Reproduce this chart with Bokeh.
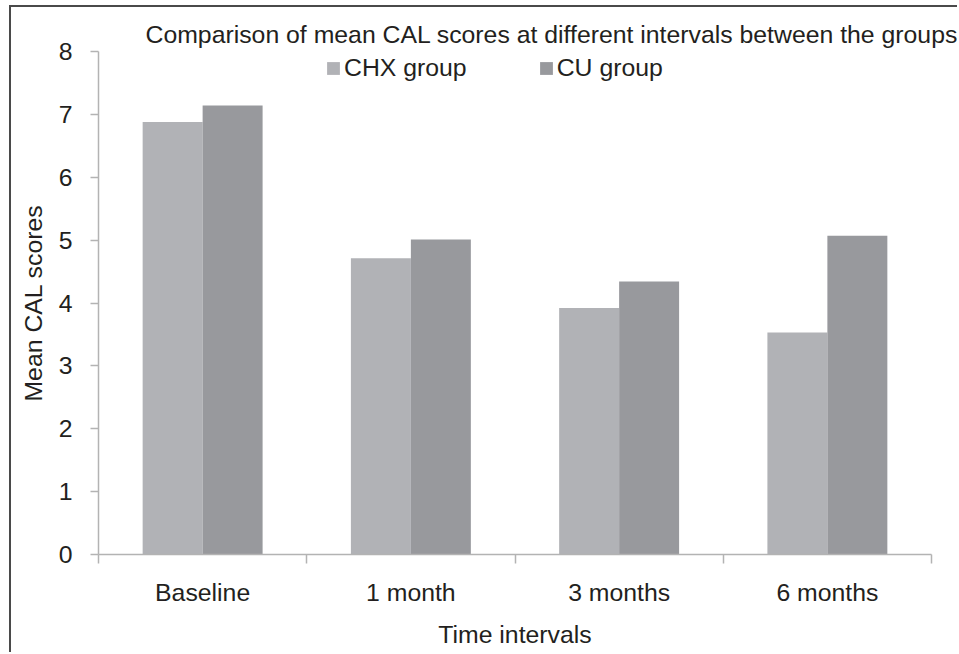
from bokeh.plotting import figure
from bokeh.models import (Range1d, LinearAxis, FixedTicker, Title,
                          ColumnDataSource, Legend, LegendItem)
from bokeh.transform import dodge
from bokeh.embed import file_html
from bokeh.resources import INLINE

# ---- data ----
categories = ["Baseline", "1 month", "3 months", "6 months"]
chx_group = [6.88, 4.71, 3.92, 3.53]
cu_group = [7.14, 5.01, 4.34, 5.07]
y_ticks = [0, 1, 2, 3, 4, 5, 6, 7, 8]
series_names = ["CHX group", "CU group"]
title_text = "Comparison of mean CAL scores at different intervals between the groups"
x_label = "Time intervals"
y_label = "Mean CAL scores"

FONT = "Liberation Sans"
TXT = "#231f20"
AX = "#b3b3b3"
CHX_COLOR = "#b1b2b6"
CU_COLOR = "#98999d"
FS = "24.8px"

n = len(categories)
centers = [i + 0.5 for i in range(n)]
src = ColumnDataSource(dict(pos=centers, cat=categories, chx=chx_group, cu=cu_group))

p = figure(width=948, height=647,
           x_range=Range1d(0, n),
           y_range=Range1d(0, 8),
           output_backend="svg", toolbar_location=None,
           x_axis_location=None, y_axis_location=None,
           min_border_left=87, min_border_right=28,
           min_border_top=44, min_border_bottom=100)
p.outline_line_color = None
p.xgrid.visible = False
p.ygrid.visible = False
p.background_fill_color = "white"
p.border_fill_color = "white"
p.styles = {"border-left": "2px solid #4a4a4a", "border-top": "2px solid #4a4a4a",
            "margin-left": "9px", "margin-top": "5px"}

bw = 0.288
r1 = p.vbar(x=dodge("pos", -bw / 2), top="chx", width=bw,
            source=src, fill_color=CHX_COLOR, line_color=None)
r2 = p.vbar(x=dodge("pos", bw / 2), top="cu", width=bw,
            source=src, fill_color=CU_COLOR, line_color=None)

# boundary ticks axis (closest to the frame)
bx = LinearAxis(ticker=FixedTicker(ticks=list(range(n + 1))),
                axis_line_color=AX, axis_line_width=1.5,
                major_tick_line_color=AX, major_tick_line_width=1.5,
                major_tick_out=9, major_tick_in=0,
                minor_tick_line_color=None,
                major_label_text_font_size="0px", major_label_text_color=None,
                major_label_standoff=0)
p.add_layout(bx, "below")

cx = LinearAxis(ticker=FixedTicker(ticks=centers),
                major_label_overrides={c: lab for c, lab in zip(centers, categories)},
                axis_line_color=None, major_tick_line_color=None,
                minor_tick_line_color=None,
                major_tick_out=0, major_tick_in=0,
                major_label_standoff=15,
                major_label_text_font=FONT, major_label_text_font_size=FS,
                major_label_text_color=TXT,
                axis_label=x_label, axis_label_standoff=12,
                axis_label_text_font=FONT, axis_label_text_font_size=FS,
                axis_label_text_font_style="normal", axis_label_text_color=TXT)
p.add_layout(cx, "below")

ya = LinearAxis(ticker=FixedTicker(ticks=y_ticks),
                axis_line_color=AX, axis_line_width=1.5,
                major_tick_line_color=AX, major_tick_line_width=1.5,
                major_tick_out=8, major_tick_in=0,
                minor_tick_line_color=None,
                major_label_standoff=18,
                major_label_text_font=FONT, major_label_text_font_size=FS,
                major_label_text_color=TXT,
                axis_label=y_label, axis_label_standoff=9,
                axis_label_text_font=FONT, axis_label_text_font_size=FS,
                axis_label_text_font_style="normal", axis_label_text_color=TXT)
p.add_layout(ya, "left")

legend = Legend(items=[LegendItem(label=series_names[0], renderers=[r1]),
                       LegendItem(label=series_names[1], renderers=[r2])],
                orientation="horizontal", location=(227, 472),
                padding=0, margin=0, spacing=71,
                glyph_width=16, glyph_height=16, label_standoff=3,
                border_line_color=None, background_fill_alpha=0,
                label_text_font=FONT, label_text_font_size=FS,
                label_text_color=TXT)
p.add_layout(legend, "center")

p.add_layout(Title(text=title_text, align="left", offset=47, standoff=7,
                   text_font=FONT, text_font_size=FS, text_color=TXT,
                   text_font_style="normal"), "above")

open("out.html", "w").write(file_html(p, INLINE))
